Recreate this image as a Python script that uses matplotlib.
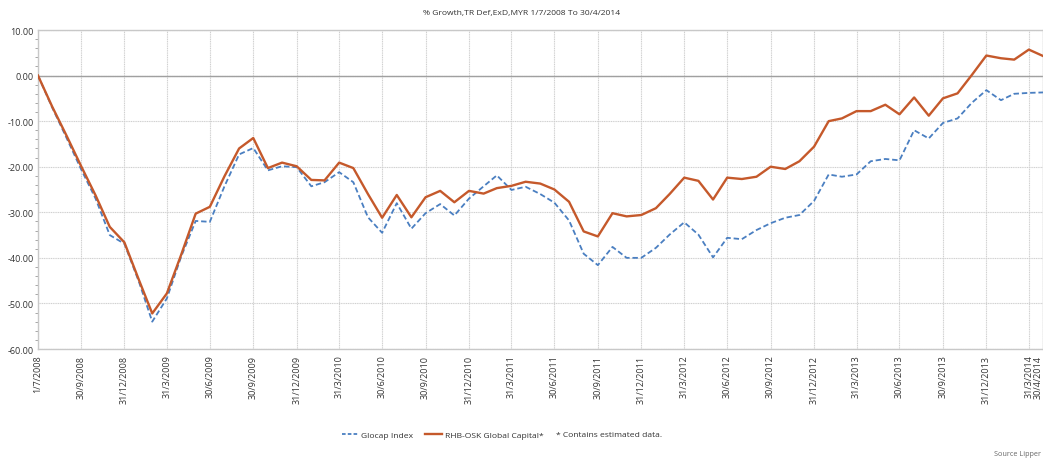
#!/usr/bin/env python3
"""% growth of RHB-OSK Global Capital vs Glocap Index, 1/7/2008 to 30/4/2014."""

import pandas as pd
import matplotlib
matplotlib.use('Agg')
import matplotlib.pyplot as plt
from matplotlib.lines import Line2D
from matplotlib.ticker import MultipleLocator

plt.rcParams['font.family'] = ['Open Sans', 'DejaVu Sans']

# ---------------------------------------------------------------------------
# Data (monthly)
# ---------------------------------------------------------------------------
START = '2008-07-01'
END = '2014-04-30'

glocap = [
    0.0, -7.0, -13.8, -20.5, -27.0, -35.0, -36.9, -45.3, -54.0, -48.9,
    -39.8, -31.9, -32.1, -24.3, -17.3, -15.9, -20.8, -19.9, -20.1, -24.3,
    -23.4, -21.2, -23.4, -31.1, -34.5, -28.0, -33.6, -30.2, -28.2, -30.7,
    -27.0, -24.3, -21.9, -25.1, -24.4, -26.0, -27.9, -31.8, -39.1, -41.6,
    -37.6, -40.0, -40.0, -37.8, -34.9, -32.2, -34.9, -39.9, -35.6, -35.9,
    -33.9, -32.4, -31.2, -30.6, -27.5, -21.7, -22.2, -21.7, -18.8, -18.3,
    -18.6, -12.0, -13.8, -10.4, -9.4, -6.0, -3.2, -5.4, -4.0, -3.8,
    -3.7,
]

rhb_osk = [
    0.0, -6.8, -13.3, -19.8, -26.3, -33.2, -36.6, -44.9, -52.2, -47.8,
    -39.4, -30.3, -28.8, -22.1, -16.0, -13.7, -20.3, -19.1, -19.9, -22.9,
    -23.0, -19.1, -20.3, -26.0, -31.2, -26.2, -31.1, -26.7, -25.3, -27.8,
    -25.3, -25.9, -24.7, -24.2, -23.3, -23.7, -25.0, -27.7, -34.2, -35.3,
    -30.2, -30.9, -30.6, -29.1, -26.0, -22.4, -23.1, -27.2, -22.4, -22.7,
    -22.2, -20.0, -20.5, -18.8, -15.6, -10.0, -9.4, -7.8, -7.8, -6.4,
    -8.5, -4.8, -8.8, -5.0, -3.9, 0.1, 4.4, 3.8, 3.5, 5.7,
    4.3,
]

# start date followed by each month end
dates = pd.DatetimeIndex([pd.Timestamp(START)]).append(
    pd.date_range('2008-07-31', END, freq='ME'))

# quarter-end ticks plus start/end
tick_dates = pd.DatetimeIndex([pd.Timestamp(START)]).append(
    pd.date_range('2008-09-30', END, freq='QE')).append(
    pd.DatetimeIndex([pd.Timestamp(END)]))
tick_labels = [f'{d.day}/{d.month}/{d.year}' for d in tick_dates]

ORANGE = '#c5592b'
BLUE = '#4a7fc1'
GRID = '#d0d0d0'
TXT = '#333333'

# ---------------------------------------------------------------------------
# Plot
# ---------------------------------------------------------------------------
fig = plt.figure(figsize=(10.43, 4.6), dpi=100)
ax = fig.add_axes([38 / 1043, 1 - 350 / 460, 1 - 38 / 1043, (350 - 31) / 460])

ax.plot(dates, glocap, color=BLUE, lw=1.3, ls=(0, (3, 1.6)), zorder=3)
ax.plot(dates, rhb_osk, color=ORANGE, lw=1.7, zorder=4)

ax.set_xlim(pd.Timestamp(START), pd.Timestamp(END))
ax.yaxis.set_major_locator(MultipleLocator(10))
ax.yaxis.set_minor_locator(MultipleLocator(2))
yt = list(range(-60, 11, 10))
ax.set_yticks(yt)
ax.set_yticklabels([f'{v:.2f}' for v in yt])
ax.set_ylim(-60, 10)

ax.set_xticks(tick_dates)
ax.set_xticklabels(tick_labels, rotation=90, va='top', ha='center')
ax.get_xticklabels()[-1].set_horizontalalignment('right')   # keep last one inside

ax.tick_params(axis='both', labelsize=6.5, colors=TXT, length=0, pad=3)
ax.tick_params(axis='y', which='minor', length=2, color='#999999')
ax.tick_params(axis='x', pad=4)

ax.grid(True, which='major', color=GRID, lw=0.8, ls=(0, (1, 0.6)))
ax.axhline(0, color='#a0a0a0', lw=1.0, zorder=2)
for s in ax.spines.values():
    s.set_color('#c8c8c8')
    s.set_linewidth(1.0)

fig.text(0.5, 1 - 14 / 460, '% Growth,TR Def,ExD,MYR 1/7/2008 To 30/4/2014',
         ha='center', va='center', fontsize=6.1, color=TXT)

handles = [
    Line2D([], [], color=BLUE, lw=1.3, ls=(0, (2, 1.2))),
    Line2D([], [], color=ORANGE, lw=1.7),
]
fig.legend(handles=handles, labels=['Glocap Index', 'RHB-OSK Global Capital*'],
           loc='center left', bbox_to_anchor=(334 / 1043, 1 - 436 / 460),
           ncol=2, frameon=False, fontsize=6.1, handlelength=2.0,
           handletextpad=0.3, columnspacing=1.4, labelcolor=TXT)
fig.text(556 / 1043, 1 - 436 / 460, '* Contains estimated data.',
         ha='left', va='center', fontsize=6.1, color=TXT)
fig.text(1041 / 1043, 1 - 455 / 460, 'Source Lipper',
         ha='right', va='center', fontsize=5.2, color='#666666')

plt.savefig('out.png', dpi=100)
print('Saved → out.png')
